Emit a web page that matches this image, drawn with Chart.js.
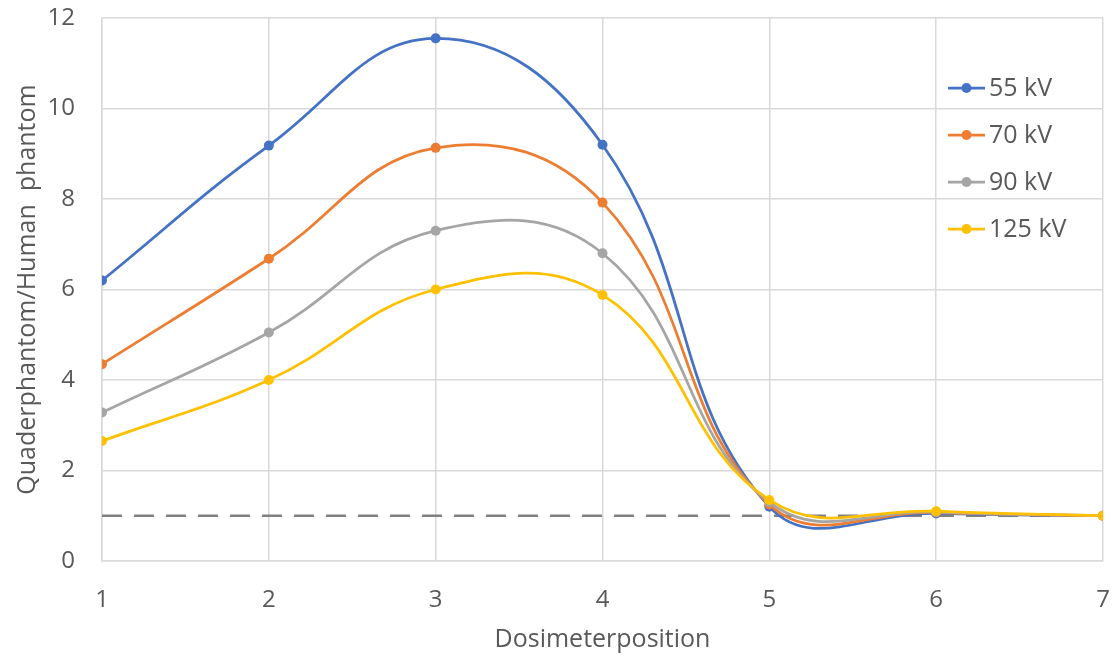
<!DOCTYPE html>
<html>
<head>
<meta charset="utf-8">
<script src="https://cdn.jsdelivr.net/npm/chart.js@4"></script>
<style>
  html, body { margin: 0; padding: 0; background: #fff; }
  #wrap { width: 1113px; height: 659px; }
</style>
</head>
<body>
<div id="wrap"><canvas id="chart" width="1113" height="659"></canvas></div>
<script>
const positions = [1, 2, 3, 4, 5, 6, 7]
const kv55 = [6.2, 9.18, 11.55, 9.2, 1.2, 1.05, 1.0]
const kv70 = [4.35, 6.68, 9.13, 7.92, 1.25, 1.07, 1.0]
const kv90 = [3.28, 5.05, 7.3, 6.8, 1.3, 1.08, 1.0]
const kv125 = [2.65, 4.0, 6.0, 5.88, 1.35, 1.1, 1.0]
const refX = [1, 7]
const refY = [1, 1]
const seriesNames = ['55 kV', '70 kV', '90 kV', '125 kV']
const colors = ['#4472C4', '#ED7D31', '#A5A5A5', '#FFC000']

const FONT = "'Open Sans', 'Noto Sans', sans-serif"
const TEXT = '#595959'
const GRID = '#d9d9d9'

const toPoints = (xs, ys) => xs.map((x, i) => ({ x: x, y: ys[i] }))

const series = [kv55, kv70, kv90, kv125].map((vals, i) => ({
        label: seriesNames[i],
        data: toPoints(positions, vals),
        borderColor: colors[i],
        backgroundColor: colors[i],
        borderWidth: 2.75,
        pointRadius: 5,
        pointHoverRadius: 5,
        pointBorderWidth: 0,
        tension: 0.42,
        order: 4 - i,
        showInLegend: true
}))

const refLine = {
        label: 'ref',
        data: toPoints(refX, refY),
        borderColor: '#808080',
        borderWidth: 2.5,
        borderDash: [20, 12],
        pointRadius: 0,
        tension: 0,
        order: 10
}

// legend drawn over the plot area, like the original
const insideLegend = {
        id: 'insideLegend',
        afterDatasetsDraw(chart) {
                const c = chart.ctx
                const items = chart.data.datasets.filter(d => d.showInLegend)
                c.save()
                c.font = '25px ' + FONT
                c.textBaseline = 'middle'
                c.textAlign = 'left'
                items.forEach((d, i) => {
                        const y = 88 + i * 47
                        c.strokeStyle = d.borderColor
                        c.lineWidth = 2.75
                        c.beginPath()
                        c.moveTo(948, y)
                        c.lineTo(985, y)
                        c.stroke()
                        c.fillStyle = d.borderColor
                        c.beginPath()
                        c.arc(966.5, y, 5, 0, Math.PI * 2)
                        c.fill()
                        c.fillStyle = TEXT
                        c.fillText(d.label, 989, y + 1)
                })
                c.restore()
        }
}

new Chart(document.getElementById('chart'), {
        type: 'line',
        data: { datasets: [...series, refLine] },
        plugins: [insideLegend],
        options: {
                responsive: false,
                animation: false,
                layout: { padding: { top: 18, right: 10, left: 0, bottom: 0 } },
                plugins: {
                        legend: { display: false },
                        tooltip: { enabled: false }
                },
                scales: {
                        x: {
                                type: 'linear',
                                min: 1,
                                max: 7,
                                afterFit(scale) {
                                        scale.height = 98
                                        scale.paddingLeft = 0
                                        scale.paddingRight = 0
                                },
                                ticks: {
                                        stepSize: 1,
                                        padding: 25,
                                        color: TEXT,
                                        font: { family: FONT, size: 24 }
                                },
                                grid: { color: GRID, lineWidth: 1.5, drawTicks: false },
                                border: { color: GRID, width: 1.5 },
                                title: {
                                        display: true,
                                        text: 'Dosimeterposition',
                                        color: TEXT,
                                        font: { family: FONT, size: 25 },
                                        padding: { top: 0, bottom: 4 }
                                }
                        },
                        y: {
                                min: 0,
                                max: 12,
                                afterFit(scale) {
                                        scale.width = 102
                                        scale.paddingTop = 0
                                        scale.paddingBottom = 0
                                },
                                ticks: {
                                        stepSize: 2,
                                        padding: 27,
                                        color: TEXT,
                                        font: { family: FONT, size: 24 }
                                },
                                grid: { color: GRID, lineWidth: 1.5, drawTicks: false },
                                border: { color: GRID, width: 1.5 },
                                title: {
                                        display: true,
                                        text: 'Quaderphantom/Human  phantom',
                                        color: TEXT,
                                        font: { family: FONT, size: 25 },
                                        padding: { top: 13, bottom: 0 }
                                }
                        }
                }
        }
})
</script>
</body>
</html>
